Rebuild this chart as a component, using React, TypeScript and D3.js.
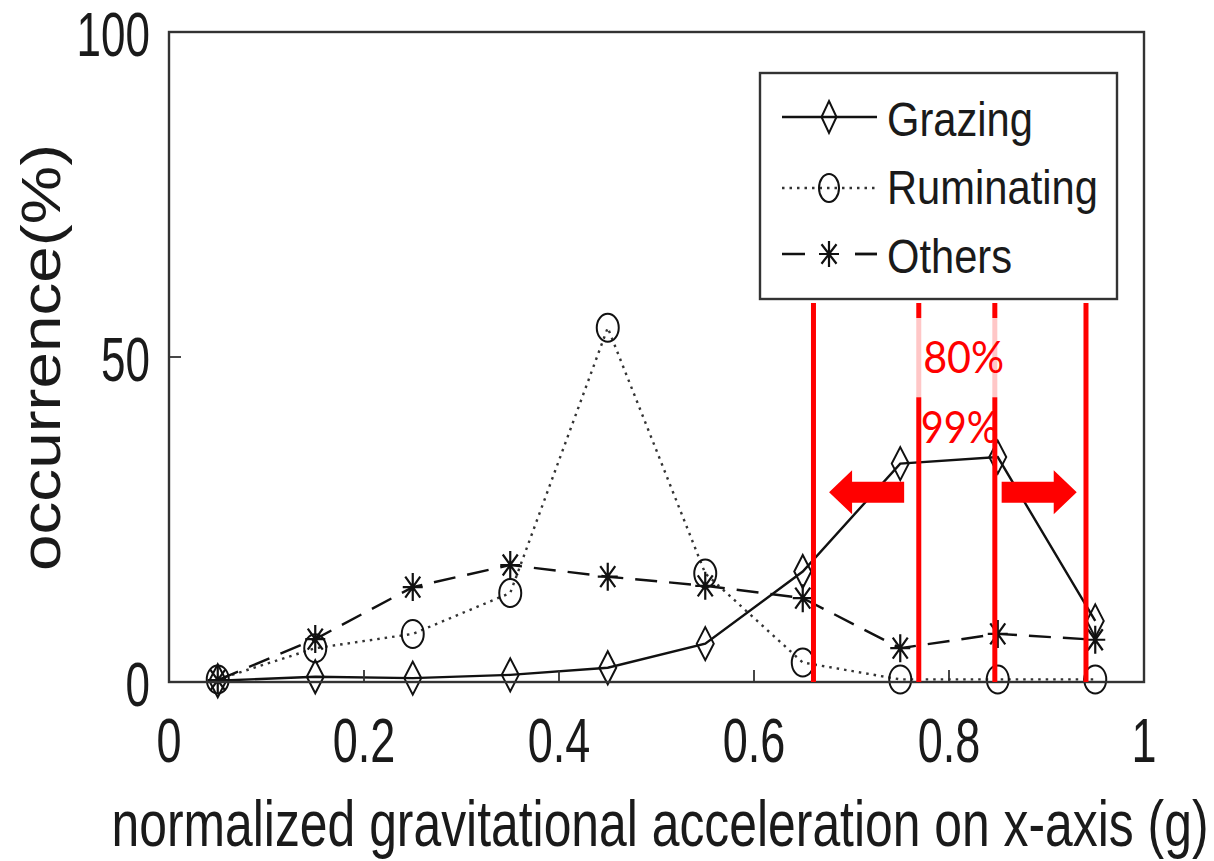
import React from "react";
import * as d3 from "d3";

const xCenters = [0.05, 0.15, 0.25, 0.35, 0.45, 0.55, 0.65, 0.75, 0.85, 0.95];
const grazing = [0.2, 0.8, 0.6, 1.1, 2.2, 5.9, 17.0, 33.6, 34.6, 9.4];
const ruminating = [0.4, 5.2, 7.4, 13.7, 54.5, 16.7, 3.0, 0.4, 0.4, 0.4];
const others = [0.3, 6.6, 14.6, 18.0, 16.2, 14.8, 12.9, 5.2, 7.4, 6.5];
const xTicks = [0, 0.2, 0.4, 0.6, 0.8, 1];
const xTickLabels = ["0", "0.2", "0.4", "0.6", "0.8", "1"];
const yTicks = [0, 50, 100];
const yTickLabels = ["0", "50", "100"];
const seriesNames = ["Grazing", "Ruminating", "Others"];
const xTitle = "normalized gravitational acceleration on x-axis (g)";
const yTitle = "occurrence(%)";

// red annotation (data units)
const redLines = [0.661, 0.769, 0.847, 0.9405];
const redLineTop = 58.3;
const arrows = [
  { from: 0.754, to: 0.677, y: 29.2 },
  { from: 0.854, to: 0.931, y: 29.2 },
];
const redLabels = [
  { text: "80%", x: 0.815, y: 47.5, len: 81 },
  { text: "99%", x: 0.811, y: 36.8, len: 78 },
];
const fadeBox = { x0: 0.762, x1: 0.855, y0: 43.8, y1: 56.0 };

const W = 1214;
const H = 861;
const left = 169;
const right = 1144;
const top = 32;
const bottom = 682;

const SANS = "'Liberation Sans', Arial, sans-serif";

function Diamond({ cx, cy, rx, ry }: any) {
  return (
    <path
      d={`M${cx},${cy - ry}L${cx + rx},${cy}L${cx},${cy + ry}L${cx - rx},${cy}Z`}
      fill="none"
      stroke="#111"
      strokeWidth={2}
    />
  );
}
function Circ({ cx, cy, rx, ry }: any) {
  return <ellipse cx={cx} cy={cy} rx={rx} ry={ry} fill="none" stroke="#111" strokeWidth={2} />;
}
function Star({ cx, cy, rx, ry }: any) {
  const dx = rx * 0.75;
  const dy = ry * 0.75;
  return (
    <path
      d={`M${cx - rx},${cy}L${cx + rx},${cy}M${cx},${cy - ry}L${cx},${cy + ry}M${cx - dx},${cy - dy}L${cx + dx},${cy + dy}M${cx - dx},${cy + dy}L${cx + dx},${cy - dy}`}
      fill="none"
      stroke="#111"
      strokeWidth={2.2}
    />
  );
}

function SText({ x, y, F, sx = 1, sy = 1, anchor = "start", children, textLength, family = SANS, fill = "#1a1a1a", rotate = 0 }: any) {
  return (
    <text
      transform={`translate(${x},${y}) rotate(${rotate}) scale(${sx},${sy})`}
      fontSize={F}
      fontFamily={family}
      textAnchor={anchor}
      fill={fill}
      textLength={textLength}
      lengthAdjust={textLength ? "spacingAndGlyphs" : undefined}
    >
      {children}
    </text>
  );
}

export default function App() {
  const x = d3.scaleLinear().domain([0, 1]).range([left, right]);
  const y = d3.scaleLinear().domain([0, 100]).range([bottom, top]);
  const line = d3
    .line<number>()
    .x((_, i) => x(xCenters[i]))
    .y((d) => y(d));

  const styles = [
    { data: grazing, dash: undefined, width: 2.4, color: "#111", Marker: Diamond, mr: [8.5, 16.5] },
    { data: ruminating, dash: "2.5,5", width: 2.4, color: "#333", Marker: Circ, mr: [11, 14] },
    { data: others, dash: "22,12", width: 2.4, color: "#111", Marker: Star, mr: [10, 14] },
  ];

  const legendMarkers = [
    { Marker: Diamond, mr: [7.5, 16] },
    { Marker: Circ, mr: [10, 14] },
    { Marker: Star, mr: [10, 13] },
  ];
  const legendLineY = [117, 188, 254];
  const legendBaseY = [136, 204, 273];

  const arrowPath = (a: any) => {
    const x0 = x(a.from);
    const x1 = x(a.to);
    const cy = y(a.y);
    const dir = x1 > x0 ? 1 : -1;
    const headLen = 23;
    const headHalf = 22;
    const shaftHalf = 10.5;
    const hb = x1 - dir * headLen;
    return `M${x0},${cy - shaftHalf}L${hb},${cy - shaftHalf}L${hb},${cy - headHalf}L${x1},${cy}L${hb},${cy + headHalf}L${hb},${cy + shaftHalf}L${x0},${cy + shaftHalf}Z`;
  };

  return (
    <svg width={W} height={H} style={{ position: "absolute", left: 0, top: 0, background: "#fff" }}>
      <rect x={0} y={0} width={W} height={H} fill="#fff" />
      {/* series lines */}
      {styles.map((s, k) => (
        <path
          key={"l" + k}
          d={line(s.data) || ""}
          fill="none"
          stroke={s.color}
          strokeWidth={s.width}
          strokeDasharray={s.dash}
        />
      ))}
      {/* markers */}
      {styles.map((s, k) =>
        s.data.map((v, i) => (
          <s.Marker key={"m" + k + "-" + i} cx={x(xCenters[i])} cy={y(v)} rx={s.mr[0]} ry={s.mr[1]} />
        ))
      )}
      {/* frame */}
      <rect x={left} y={top} width={right - left} height={bottom - top} fill="none" stroke="#333" strokeWidth={2.4} />
      {xTicks.map((t, i) => (
        <line key={"xt" + i} x1={x(t)} x2={x(t)} y1={bottom} y2={bottom - 12} stroke="#333" strokeWidth={1.8} />
      ))}
      {yTicks.map((t, i) => (
        <line key={"yt" + i} x1={left} x2={left + 12} y1={y(t)} y2={y(t)} stroke="#333" strokeWidth={1.8} />
      ))}
      {/* tick labels */}
      {xTicks.map((t, i) => (
        <SText key={"xl" + i} x={x(t)} y={762} F={45} sy={1.4} anchor="middle">
          {xTickLabels[i]}
        </SText>
      ))}
      {yTicks.map((t, i) => (
        <SText key={"yl" + i} x={150} y={y(t) + 24} F={44} sy={1.42} anchor="end">
          {yTickLabels[i]}
        </SText>
      ))}
      {/* axis titles */}
      <SText x={660} y={846} F={48} sy={1.36} anchor="middle" textLength={1097}>
        {xTitle}
      </SText>
      <SText x={60} y={357.5} F={55} anchor="middle" rotate={-90} textLength={427}>
        {yTitle}
      </SText>
      {/* legend */}
      <rect x={760} y={73} width={357} height={226} fill="#fff" stroke="#333" strokeWidth={2.4} />
      {styles.map((s, k) => {
        const LM = legendMarkers[k].Marker;
        return (
          <g key={"lg" + k}>
            <line
              x1={782}
              x2={877}
              y1={legendLineY[k]}
              y2={legendLineY[k]}
              stroke={s.color}
              strokeWidth={s.width}
              strokeDasharray={k === 2 ? "23,50" : s.dash}
            />
            {k === 2 && <line x1={855} x2={877} y1={legendLineY[k]} y2={legendLineY[k]} stroke="#111" strokeWidth={2.4} />}
            <LM cx={829} cy={legendLineY[k]} rx={legendMarkers[k].mr[0]} ry={legendMarkers[k].mr[1]} />
            <SText x={887} y={legendBaseY[k]} F={41.7} sy={1.15}>
              {seriesNames[k]}
            </SText>
          </g>
        );
      })}
      {/* red annotation */}
      {redLines.map((v, i) => (
        <line key={"rl" + i} x1={x(v)} x2={x(v)} y1={y(redLineTop)} y2={bottom} stroke="#ff0000" strokeWidth={5} />
      ))}
      <rect
        x={x(fadeBox.x0)}
        y={y(fadeBox.y1)}
        width={x(fadeBox.x1) - x(fadeBox.x0)}
        height={y(fadeBox.y0) - y(fadeBox.y1)}
        fill="#fff"
        opacity={0.78}
      />
      {arrows.map((a, i) => (
        <path key={"ar" + i} d={arrowPath(a)} fill="#ff0000" />
      ))}
      {redLabels.map((l, i) => (
        <SText
          key={"rt" + i}
          x={x(l.x)}
          y={y(l.y)}
          F={45}
          anchor="middle"
          family="Lato, 'Open Sans', sans-serif"
          fill="#ff0000"
          textLength={l.len}
        >
          {l.text}
        </SText>
      ))}
    </svg>
  );
}
